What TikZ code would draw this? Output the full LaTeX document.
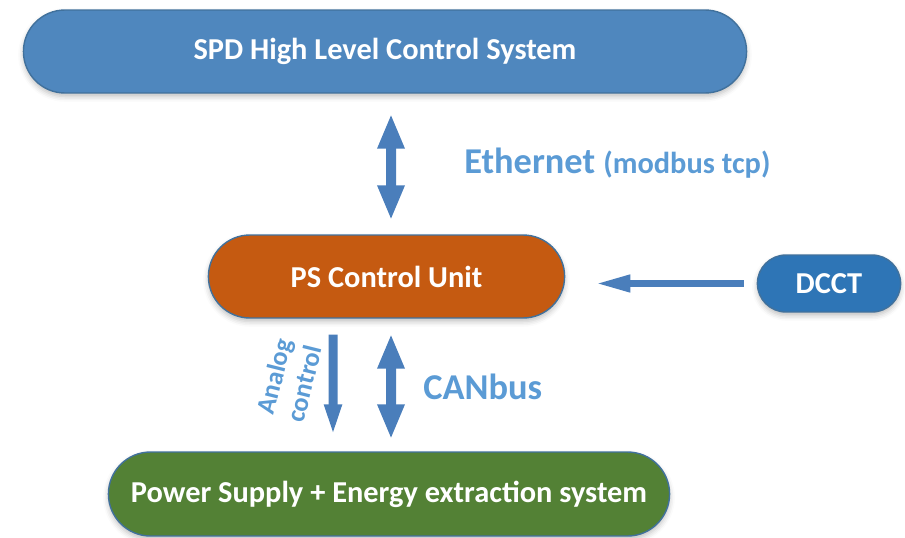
\documentclass[tikz,border=0pt]{standalone}
\usepackage{fontspec}
\setmainfont{Carlito}
\usetikzlibrary{shapes.misc,arrows.meta,shadows.blur}

\definecolor{topblue}{HTML}{4F87BE}
\definecolor{bordblue}{HTML}{41719C}
\definecolor{psorange}{HTML}{C55A11}
\definecolor{psgreen}{HTML}{538135}
\definecolor{dcctblue}{HTML}{2E75B6}
\definecolor{arrowblue}{HTML}{4A7EBB}
\definecolor{labelblue}{HTML}{5B9BD5}

\begin{document}
\begin{tikzpicture}[x=0.02cm,y=-0.02cm]
    \tikzstyle{unit}=[rounded rectangle,draw=bordblue,line width=0.8pt,text=white,
        font=\fontsize{17.3}{20}\selectfont\bfseries,minimum height=1.66cm,
        blur shadow={shadow xshift=0pt,shadow yshift=-2pt,shadow blur radius=3pt,shadow opacity=25}]
    \tikzstyle{link}=[draw=arrowblue,line width=0.2cm]
    \tikzstyle{tag}=[text=labelblue,font=\fontsize{20.7}{24}\selectfont\bfseries,inner sep=0pt]

    \useasboundingbox (0,0) rectangle (905,537);

    \node(hlcs)[unit,fill=topblue,minimum width=14.7cm] at (385,51.5) {SPD High Level Control System};
    \node(psu)[unit,fill=psorange,minimum width=7.36cm] at (386.5,276.5) {PS Control Unit};
    \node(dcct)[unit,fill=dcctblue,minimum width=3.1cm,minimum height=1.14cm] at (829,283.5) {DCCT};
    \node(ps)[unit,fill=psgreen,minimum width=11.46cm,minimum height=1.68cm] at (389,494) {Power Supply + Energy extraction system};

    % links between the units
    \draw[link,{Triangle[length=0.7cm,width=0.5cm]}-{Triangle[length=0.7cm,width=0.5cm]},shorten <=0.4cm,shorten >=0.28cm]
        ([xshift=0.12cm]hlcs.south) -- ([xshift=0.09cm]psu.north);
    \draw[link,line width=0.18cm,-{Triangle[length=0.7cm,width=0.3cm]},shorten <=0.32cm,shorten >=0.24cm]
        ([xshift=-1.07cm]psu.south) -- ([xshift=-1.12cm]ps.north);
    \draw[link,{Triangle[length=0.7cm,width=0.5cm]}-{Triangle[length=0.7cm,width=0.5cm]},shorten <=0.3cm,shorten >=0.24cm]
        ([xshift=0.09cm]psu.south) -- ([xshift=0.04cm]ps.north);
    \draw[link,line width=0.14cm,-{Triangle[length=0.7cm,width=0.32cm]},shorten <=0.26cm,shorten >=0.6cm]
        (dcct.west) -- (dcct.west -| psu.east);

    \node(eth)[tag,anchor=base west] at (464,173) {Ethernet {\fontsize{17.3}{20}\selectfont(modbus tcp)}};
    \node(can)[tag,anchor=base west] at (423,399) {CANbus};
    \node(analog)[tag,font=\fontsize{15}{17.5}\selectfont\bfseries,align=center,rotate=76] at (289,380) {Analog\\control};
\end{tikzpicture}
\end{document}
